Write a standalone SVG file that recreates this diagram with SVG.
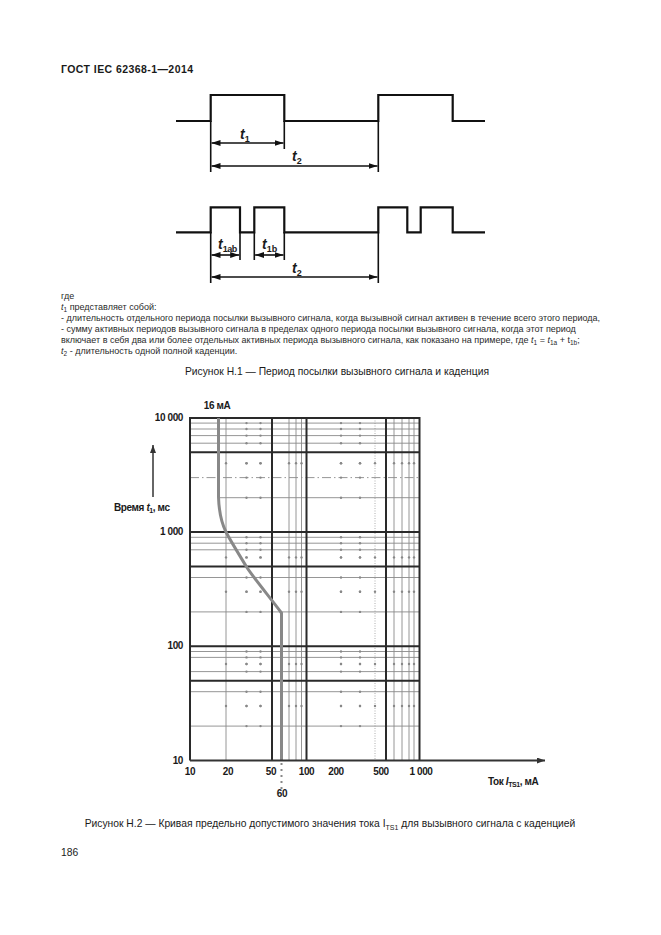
<svg xmlns="http://www.w3.org/2000/svg" xmlns:xlink="http://www.w3.org/1999/xlink" width="661" height="935" viewBox="0 0 661 935">
<style>
text{font-family:"Liberation Sans",Arial,sans-serif;fill:#1a1a1a}
.wave{fill:none;stroke:#111;stroke-width:2.2}
.dim{fill:none;stroke:#111;stroke-width:1.6}
.arr{fill:none;stroke:#111;stroke-width:1.6;marker-start:url(#ah);marker-end:url(#ah)}
.tl{font-size:14px;font-weight:bold;font-style:italic}
.tls{font-size:9px;font-style:normal}
.body{font-size:9px;fill:#2a2a2a}
.cap{font-size:10.3px}
.cl{font-size:10px;font-weight:bold;letter-spacing:-0.4px}
.maj{stroke:#2a2a2a;stroke-width:2;fill:none}
.min{stroke:#8a8a8a;stroke-width:0.9;fill:none}
.dash{stroke:#8a8a8a;stroke-width:0.9;fill:none;stroke-dasharray:9 3 1.5 3}
.fdot{stroke:#999;stroke-width:0.8;fill:none;stroke-dasharray:1 1.5}
.dot{fill:#888}
.curve{fill:none;stroke:#888;stroke-width:3}
</style>
<defs>
<marker id="ah" viewBox="0 0 9 6" refX="9" refY="3" markerWidth="9" markerHeight="6" markerUnits="userSpaceOnUse" orient="auto-start-reverse"><path d="M0,0 L9,3 L0,6 z" fill="#111"/></marker>
<marker id="ax" viewBox="0 0 8 6" refX="8" refY="3" markerWidth="8" markerHeight="6" markerUnits="userSpaceOnUse" orient="auto"><path d="M0,0 L8,3 L0,6 z" fill="#333"/></marker>
<g id="dr">
<circle class="dot" cx="226" cy="0" r="1.2"/><circle class="dot" cx="246.5" cy="0" r="1.2"/><circle class="dot" cx="260.5" cy="0" r="1.2"/><circle class="dot" cx="289" cy="0" r="1.2"/><circle class="dot" cx="296" cy="0" r="1.2"/><circle class="dot" cx="301.5" cy="0" r="1.2"/><circle class="dot" cx="341" cy="0" r="1.2"/><circle class="dot" cx="360" cy="0" r="1.2"/><circle class="dot" cx="375" cy="0" r="1.2"/><circle class="dot" cx="394" cy="0" r="1.2"/><circle class="dot" cx="402" cy="0" r="1.2"/><circle class="dot" cx="409" cy="0" r="1.2"/><circle class="dot" cx="414" cy="0" r="1.2"/>
</g>
<g id="dc">
<circle class="dot" cx="0" cy="423.1" r="1.2"/><circle class="dot" cx="0" cy="429" r="1.2"/><circle class="dot" cx="0" cy="435.6" r="1.2"/><circle class="dot" cx="0" cy="443.2" r="1.2"/><circle class="dot" cx="0" cy="463.3" r="1.2"/><circle class="dot" cx="0" cy="477.6" r="1.2"/><circle class="dot" cx="0" cy="497.7" r="1.2"/><circle class="dot" cx="0" cy="537.3" r="1.2"/><circle class="dot" cx="0" cy="543.2" r="1.2"/><circle class="dot" cx="0" cy="549.8" r="1.2"/><circle class="dot" cx="0" cy="557.4" r="1.2"/><circle class="dot" cx="0" cy="577.5" r="1.2"/><circle class="dot" cx="0" cy="591.8" r="1.2"/><circle class="dot" cx="0" cy="611.9" r="1.2"/><circle class="dot" cx="0" cy="651.5" r="1.2"/><circle class="dot" cx="0" cy="657.4" r="1.2"/><circle class="dot" cx="0" cy="664" r="1.2"/><circle class="dot" cx="0" cy="671.6" r="1.2"/><circle class="dot" cx="0" cy="691.7" r="1.2"/><circle class="dot" cx="0" cy="706" r="1.2"/><circle class="dot" cx="0" cy="726.1" r="1.2"/>
</g>
</defs>
<rect width="661" height="935" fill="#fff"/>

<g id="header"><text x="61" y="73" font-size="10.5" font-weight="bold" textLength="132">ГОСТ IEC 62368-1—2014</text></g>

<g id="figure1">
<g id="wave1">
<path class="wave" d="M176,121 H210.7 V95 H284.3 V121 H378.3 V95 H452.7 V121 H485"/>
<path class="dim" d="M210.7,121 V172 M284.3,121 V149 M378.3,121 V172"/>
<text class="tl" x="240" y="139">t<tspan class="tls" dy="3">1</tspan></text>
<text class="tl" x="292" y="161">t<tspan class="tls" dy="3">2</tspan></text>
</g>
<g id="wave2">
<path class="wave" d="M176,232.3 H210.7 V207.3 H240 V232.3 H254.3 V207.3 H284.3 V232.3 H378.3 V207.3 H407.3 V232.3 H420.7 V207.3 H452.7 V232.3 H485"/>
<path class="dim" d="M210.7,232 V283 M240,232 V260 M254.3,232 V260 M284.3,232 V260 M378.3,232 V283"/>
<text class="tl" x="218" y="249">t<tspan class="tls" dy="3" letter-spacing="-0.5">1ab</tspan></text>
<text class="tl" x="262" y="249">t<tspan class="tls" dy="3">1b</tspan></text>
<text class="tl" x="292" y="273">t<tspan class="tls" dy="3">2</tspan></text>
</g>
<g id="connectors1">
<line class="arr" x1="211.5" y1="143" x2="283.5" y2="143"/>
<line class="arr" x1="211.5" y1="166" x2="377.5" y2="166"/>
<line class="arr" x1="211.5" y1="255" x2="239.2" y2="255"/>
<line class="arr" x1="255.1" y1="255" x2="283.5" y2="255"/>
<line class="arr" x1="211.5" y1="277" x2="377.5" y2="277"/>
</g>
</g>

<g id="legend">
<text class="body" x="61" y="299">где</text>
<text class="body" x="61" y="310"><tspan font-style="italic">t</tspan><tspan font-size="6.5" dy="2">1</tspan><tspan dy="-2"> представляет собой:</tspan></text>
<text class="body" x="61" y="321">-  длительность отдельного периода посылки вызывного сигнала, когда вызывной сигнал активен в течение всего этого периода,</text>
<text class="body" x="61" y="332">-  сумму активных периодов вызывного сигнала в пределах одного периода посылки вызывного сигнала, когда этот период</text>
<text class="body" x="61" y="343">включает в себя два или более отдельных активных периода вызывного сигнала, как показано на примере, где <tspan font-style="italic">t</tspan><tspan font-size="6.5" dy="2">1</tspan><tspan dy="-2"> = </tspan><tspan font-style="italic">t</tspan><tspan font-size="6.5" dy="2">1a</tspan><tspan dy="-2"> + t</tspan><tspan font-size="6.5" dy="2">1b</tspan><tspan dy="-2">;</tspan></text>
<text class="body" x="61" y="354"><tspan font-style="italic">t</tspan><tspan font-size="6.5" dy="2">2</tspan><tspan dy="-2"> - длительность одной полной каденции.</tspan></text>
</g>

<g id="caption1"><text class="cap" x="337" y="375" text-anchor="middle" font-size="10.5">Рисунок Н.1 — Период посылки вызывного сигнала и каденция</text></g>

<g id="chart">
<g id="grid">
<path class="min" d="M226,418 V760 M289,418 V760 M296,418 V760 M301.5,418 V760 M394,418 V760 M402,418 V760 M409,418 V760 M414,418 V760"/>
<path class="fdot" d="M375,418 V760"/>
<path class="min" d="M190,423.1 H419.5 M190,429 H419.5 M190,435.6 H419.5 M190,443.2 H419.5 M218,497.7 H419.5 M190,537.3 H419.5 M190,543.2 H419.5 M190,549.8 H419.5 M190,577.5 H419.5 M190,611.9 H419.5 M190,651.5 H419.5 M190,657.4 H419.5 M190,671.6 H419.5 M190,691.7 H419.5 M190,726.1 H419.5"/>
<path class="dash" d="M190,477.6 H419.5"/>
<use href="#dr" xlink:href="#dr" y="463.3"/>
<use href="#dr" xlink:href="#dr" y="557.4"/>
<use href="#dr" xlink:href="#dr" y="591.8"/>
<use href="#dr" xlink:href="#dr" y="664"/>
<use href="#dr" xlink:href="#dr" y="706"/>
<use href="#dc" xlink:href="#dc" x="246.5"/>
<use href="#dc" xlink:href="#dc" x="260.5"/>
<use href="#dc" xlink:href="#dc" x="341"/>
<use href="#dc" xlink:href="#dc" x="360"/>
<path class="maj" d="M190,418 H419.5 M190,452.3 H419.5 M190,532.1 H419.5 M190,566.5 H419.5 M190,646.3 H419.5 M190,680.7 H419.5"/>
<path class="maj" d="M190,417 V760.5 M272,418 V760.5 M306.5,418 V760.5 M386,418 V760.5 M419.5,417 V760.5"/>
</g>
<g id="curve">
<path class="curve" d="M218.5,418 V497 C219,512 222,524 226,532 S240,556 246,566 S272,600 281.5,613 V760"/>
<path d="M281.5,763 V790" stroke="#888" stroke-width="2" stroke-dasharray="2 4" fill="none"/>
</g>
<g id="axes">
<line x1="190" y1="760.5" x2="545" y2="760.5" stroke="#333" stroke-width="2" marker-end="url(#ax)"/>
<line x1="153" y1="497" x2="153" y2="445" stroke="#333" stroke-width="1.5" marker-end="url(#ax)"/>
</g>
<g id="labels">
<text class="cl" x="183" y="421" text-anchor="end">10 000</text>
<text class="cl" x="183" y="535" text-anchor="end">1 000</text>
<text class="cl" x="183" y="649" text-anchor="end">100</text>
<text class="cl" x="183" y="764" text-anchor="end">10</text>
<text class="cl" x="114" y="511" letter-spacing="0.3">Время <tspan font-style="italic">t</tspan><tspan font-size="7" dy="2">1</tspan><tspan dy="-2">, мс</tspan></text>
<text class="cl" x="217" y="409" text-anchor="middle">16 мА</text>
<text class="cl" x="190" y="775" text-anchor="middle">10</text>
<text class="cl" x="228" y="775" text-anchor="middle">20</text>
<text class="cl" x="271" y="775" text-anchor="middle">50</text>
<text class="cl" x="306.5" y="775" text-anchor="middle">100</text>
<text class="cl" x="336" y="775" text-anchor="middle">200</text>
<text class="cl" x="381" y="775" text-anchor="middle">500</text>
<text class="cl" x="421" y="775" text-anchor="middle">1 000</text>
<text class="cl" x="282" y="797" text-anchor="middle">60</text>
<text class="cl" x="488" y="785">Ток <tspan font-style="italic">I</tspan><tspan font-size="7" dy="2">TS1</tspan><tspan dy="-2">, мА</tspan></text>
</g>
</g>

<g id="caption2"><text class="cap" x="330" y="827" text-anchor="middle" font-size="10">Рисунок Н.2 — Кривая предельно допустимого значения тока I<tspan font-size="7" dy="3">TS1</tspan><tspan dy="-3"> для вызывного сигнала с каденцией</tspan></text></g>

<g id="page"><text class="cap" x="61" y="856">186</text></g>
</svg>
